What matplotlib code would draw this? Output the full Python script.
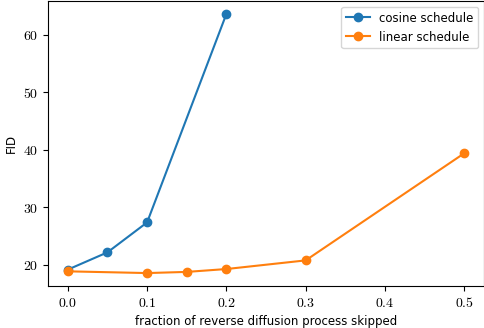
import matplotlib
matplotlib.use('Agg')
import matplotlib.pyplot as plt

plt.rcParams['mathtext.fontset'] = 'cm'

cos_x = [0.0, 0.05, 0.1, 0.2]
cos_fid = [19.2, 22.2, 27.4, 63.6]
lin_x = [0.0, 0.1, 0.15, 0.2, 0.3, 0.5]
lin_fid = [18.9, 18.6, 18.8, 19.3, 20.8, 39.4]
xticks = [0.0, 0.1, 0.2, 0.3, 0.4, 0.5]
yticks = [20, 30, 40, 50, 60]

fig = plt.figure(figsize=(4.85, 3.28), dpi=100)
ax = fig.add_axes([0.099, 0.128, 0.899, 0.869])
ax.plot(cos_x, cos_fid, 'o-', color='#1f77b4', ms=6, lw=1.5, label='cosine schedule')
ax.plot(lin_x, lin_fid, 'o-', color='#ff7f0e', ms=6, lw=1.5, label='linear schedule')

ax.set_xticks(xticks)
ax.set_xticklabels(['$%.1f$' % v for v in xticks], fontsize=10)
ax.set_yticks(yticks)
ax.set_yticklabels(['$%d$' % v for v in yticks], fontsize=10)
ax.set_xlabel('fraction of reverse diffusion process skipped', fontsize=8.5)
ax.set_ylabel('FID', fontsize=8.5)
ax.legend(fontsize=8.5, loc='upper right')

fig.savefig('out.png', dpi=100)
